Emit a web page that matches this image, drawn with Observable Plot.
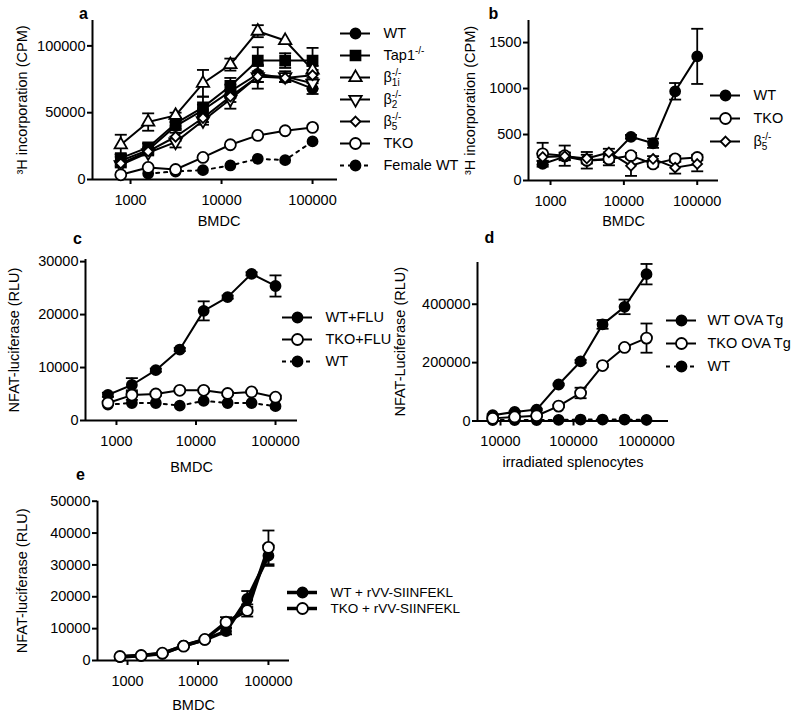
<!DOCTYPE html>
<html><head><meta charset="utf-8">
<script src="https://cdn.jsdelivr.net/npm/d3@7"></script>
<script src="https://cdn.jsdelivr.net/npm/@observablehq/plot@0.6"></script>
<style>
body{margin:0;background:#fff;}
#fig{position:relative;width:800px;height:717px;overflow:hidden;background:#fff;}
</style></head><body><div id="fig"></div>
<script>
const FONT = '"Liberation Sans", Arial, Helvetica, sans-serif';

// ---------- data ----------
const X_BMDC = [781.25, 1562.5, 3125, 6250, 12500, 25000, 50000, 100000];
const X_SPL = [7812.5, 15625, 31250, 62500, 125000, 250000, 500000, 1000000];
const TICKS_BMDC = [1000, 10000, 100000];
const TICKS_SPL = [10000, 100000, 1000000];

// panel a
const A_NAMES = ["WT", "Tap1-/-", "β1i-/-", "β2-/-", "β5-/-", "TKO", "Female WT"];
const A_WT = [14000, 22000, 40000, 52000, 66000, 79000, 76000, 68000];
const A_WT_ERR = [3000, 2000, 3000, 4000, 5000, 6000, 3000, 4000];
const A_TAP1 = [16000, 24000, 42000, 54000, 70000, 89000, 89000, 89000];
const A_TAP1_ERR = [3000, 3000, 4000, 8000, 6000, 10000, 5500, 9500];
const A_B1I = [26000, 43000, 48000, 72000, 86000, 111000, 104000, 82000];
const A_B1I_ERR = [7500, 6500, 2000, 10000, 4500, 4500, 0, 3000];
const A_B2 = [11000, 20000, 28000, 44000, 60000, 77000, 77000, 72000];
const A_B2_ERR = [2000, 2000, 4000, 3000, 7000, 9000, 4000, 4000];
const A_B5 = [12000, 21000, 32000, 46000, 62000, 77000, 76000, 78000];
const A_B5_ERR = [2000, 2000, 3000, 3000, 4000, 4000, 3000, 4000];
const A_TKO = [3500, 9000, 7500, 16500, 26000, 33000, 36500, 39000];
const A_FEMALE = [null, 4500, 6000, 7000, 10500, 15500, 14500, 28500];
const A_YTICKS = [0, 50000, 100000];

// panel b
const B_NAMES = ["WT", "TKO", "β5-/-"];
const B_WT = [180, 260, 215, 230, 475, 405, 970, 1350];
const B_WT_ERR = [30, 40, 30, 30, 20, 50, 90, 300];
const B_TKO = [290, 270, 220, 235, 270, 180, 235, 250];
const B_TKO_ERR = [120, 110, 90, 70, 30, 30, 30, 30];
const B_B5 = [255, 265, 240, 305, 160, 235, 140, 180];
const B_B5_ERR = [40, 40, 40, 40, 110, 30, 65, 80];
const B_YTICKS = [0, 500, 1000, 1500];

// panel c
const C_NAMES = ["WT+FLU", "TKO+FLU", "WT"];
const C_WTFLU = [4850, 6700, 9500, 13400, 20700, 23300, 27700, 25400];
const C_WTFLU_ERR = [400, 1300, 300, 300, 1800, 300, 300, 2000];
const C_TKOFLU = [3300, 4800, 5000, 5700, 5700, 5100, 5400, 4400];
const C_TKOFLU_ERR = [300, 900, 300, 200, 300, 300, 200, 300];
const C_WT = [3000, 3300, 3300, 2800, 3700, 3300, 3300, 2700];
const C_YTICKS = [0, 10000, 20000, 30000];

// panel d
const D_NAMES = ["WT OVA Tg", "TKO OVA Tg", "WT"];
const D_WTOVA = [20000, 31000, 39000, 125000, 204000, 331000, 391000, 503000];
const D_WTOVA_ERR = [3000, 3000, 3000, 3000, 5000, 15000, 25000, 35000];
const D_TKOOVA = [9000, 14000, 18000, 51000, 96000, 190000, 252000, 284000];
const D_TKOOVA_ERR = [2000, 2000, 3000, 4000, 18000, 5000, 5000, 50000];
const D_WT = [3000, 3000, 3000, 4000, 5000, 5000, 5000, 4000];
const D_YTICKS = [0, 200000, 400000];

// panel e
const E_NAMES = ["WT + rVV-SIINFEKL", "TKO + rVV-SIINFEKL"];
const E_WT = [1050, 1570, 2100, 4700, 6500, 9200, 19300, 32900];
const E_WT_ERR = [200, 200, 300, 300, 400, 1000, 2500, 3200];
const E_TKO = [1250, 1570, 2300, 4500, 6600, 12000, 15700, 35500];
const E_TKO_ERR = [200, 200, 300, 300, 400, 1600, 1900, 5300];
const E_YTICKS = [0, 10000, 20000, 30000, 40000, 50000];

// ---------- styles ----------
const TRI_DOWN = {draw(ctx, size) {
  const s3 = Math.sqrt(3), y = Math.sqrt(size / (s3 * 3));
  ctx.moveTo(0, y * 2); ctx.lineTo(-s3 * y, -y); ctx.lineTo(s3 * y, -y); ctx.closePath();
}};
const CAP = {draw(ctx) { ctx.moveTo(-6, 0); ctx.lineTo(6, 0); }};
const STYLE = {
  filled: {symbol: "circle", fill: "black", r: 5},
  square: {symbol: "square", fill: "black", r: 5.6},
  triUp: {symbol: "triangle", fill: "white", r: 4.6},
  triDown: {symbol: TRI_DOWN, fill: "white", r: 4.6},
  diamond: {symbol: "diamond2", fill: "white", r: 4.4},
  open: {symbol: "circle", fill: "white", r: 5.5},
  dotted: {symbol: "circle", fill: "black", r: 5, dash: "3,5", legendDash: "4,4"}
};
const RICH = {
  "Tap1-/-": [["Tap1"], ["-/-", "sup"]],
  "β1i-/-": [["β"], ["1i", "sub"], ["-/-", "supst"]],
  "β2-/-": [["β"], ["2", "sub"], ["-/-", "supst"]],
  "β5-/-": [["β"], ["5", "sub"], ["-/-", "supst"]]
};

const fig = document.getElementById("fig");
function place(svg, left, top) {
  svg.style.position = "absolute";
  svg.style.left = left + "px";
  svg.style.top = top + "px";
  fig.appendChild(svg);
  richify(svg);
  return svg;
}
function richify(svg) {
  d3.select(svg).selectAll("text").each(function() {
    const parts = RICH[this.textContent];
    if (!parts) return;
    const el = d3.select(this);
    el.text(null);
    let subW = 0;
    for (const [t, kind] of parts) {
      const ts = el.append("tspan").text(t);
      if (kind === "sub") { ts.attr("font-size", 10).attr("dy", 4); subW = ts.node().getComputedTextLength(); }
      else if (kind === "sup") ts.attr("font-size", 10).attr("dy", -6);
      else if (kind === "supst") ts.attr("font-size", 10).attr("dy", -10).attr("dx", -subW);
    }
  });
}
const baseStyle = {fontFamily: FONT, fontSize: "14.5px", background: "transparent", overflow: "visible", color: "black"};

function drawPanel(p) {
  const marks = [
    Plot.ruleY([p.yDomain[0]], {stroke: "black", strokeWidth: 2}),
    Plot.ruleX([p.xDomain[0]], {stroke: "black", strokeWidth: 2}),
    Plot.axisX({ticks: p.xTicks, tickFormat: d3.format("d"), tickSize: 5, tickPadding: 10, strokeWidth: 2, label: null}),
    Plot.axisY({ticks: p.yTicks, tickFormat: d3.format("d"), tickSize: 5, tickPadding: 2, strokeWidth: 2, label: null})
  ];
  const rowsOf = s => p.x.map((x, i) => ({x, y: s.y[i], e: s.e ? s.e[i] : 0})).filter(d => d.y != null);
  for (const s of p.series) {
    const st = STYLE[s.style];
    marks.push(Plot.line(rowsOf(s), {x: "x", y: "y", stroke: "black", strokeWidth: p.lw, strokeDasharray: st.dash}));
  }
  for (const s of p.series) {
    const er = rowsOf(s).filter(d => d.e > 0);
    marks.push(Plot.ruleX(er, {x: "x", y1: d => d.y - d.e, y2: d => d.y + d.e, stroke: "black", strokeWidth: 1.8}));
    marks.push(Plot.dot(er, {x: "x", y: d => d.y + d.e, symbol: CAP, r: 4, fill: "none", stroke: "black", strokeWidth: 1.8}));
    marks.push(Plot.dot(er, {x: "x", y: d => d.y - d.e, symbol: CAP, r: 4, fill: "none", stroke: "black", strokeWidth: 1.8}));
  }
  for (const s of p.series) {
    const st = STYLE[s.style];
    marks.push(Plot.dot(rowsOf(s), {x: "x", y: "y", symbol: st.symbol, r: st.r * (p.rScale || 1), fill: st.fill, stroke: "black", strokeWidth: 1.8}));
  }
  marks.push(Plot.text([p.xLabel], {text: d => d, frameAnchor: "bottom", dx: p.xLabelDx || 0, dy: p.xLabelDy, textAnchor: "middle", lineAnchor: "middle"}));
  marks.push(Plot.text([p.yLabel], {text: d => d, frameAnchor: "left", rotate: -90, dx: p.yLabelDx, textAnchor: "middle", lineAnchor: "middle"}));
  marks.push(Plot.text([p.letter], {text: d => d, frameAnchor: "top-left", dx: p.letterDx, dy: p.letterDy, fontWeight: "bold", fontSize: 16, textAnchor: "middle", lineAnchor: "middle"}));
  const svg = Plot.plot({
    width: p.width, height: p.height,
    marginLeft: p.mL, marginRight: p.mR, marginTop: p.mT, marginBottom: p.mB,
    x: {type: "log", domain: p.xDomain},
    y: {domain: p.yDomain},
    style: baseStyle,
    marks
  });
  return place(svg, p.left, p.top);
}

function drawLegend(g) {
  const names = g.items.map(d => d.name);
  const marks = [];
  for (const it of g.items) {
    const st = STYLE[it.style];
    marks.push(Plot.ruleY([it.name], {y: d => d, x1: () => 0, x2: () => 1, stroke: "black", strokeWidth: g.lw, strokeDasharray: st.legendDash}));
    marks.push(Plot.dot([it.name], {y: d => d, x: () => 0.5, symbol: st.symbol, r: st.r, fill: st.fill, stroke: "black", strokeWidth: 1.8}));
    marks.push(Plot.text([it.name], {y: d => d, x: () => 1, text: d => d, dx: g.gap, textAnchor: "start", lineAnchor: "middle", fontSize: g.fontSize}));
  }
  const svg = Plot.plot({
    width: g.width, height: g.height,
    marginLeft: g.x0 - g.left, marginRight: g.width - (g.x1 - g.left),
    marginTop: g.y0 - g.top, marginBottom: g.height - (g.y1 - g.top),
    x: {domain: [0, 1], axis: null},
    y: {type: "point", domain: names, padding: 0, axis: null},
    style: baseStyle,
    marks
  });
  return place(svg, g.left, g.top);
}

// ---------- panel a ----------
const seriesA = [
  {name: A_NAMES[6], y: A_FEMALE, e: null, style: "dotted"},
  {name: A_NAMES[0], y: A_WT, e: A_WT_ERR, style: "filled"},
  {name: A_NAMES[1], y: A_TAP1, e: A_TAP1_ERR, style: "square"},
  {name: A_NAMES[2], y: A_B1I, e: A_B1I_ERR, style: "triUp"},
  {name: A_NAMES[3], y: A_B2, e: A_B2_ERR, style: "triDown"},
  {name: A_NAMES[4], y: A_B5, e: A_B5_ERR, style: "diamond"},
  {name: A_NAMES[5], y: A_TKO, e: null, style: "open"}
];
drawPanel({left: 0, top: 0, width: 345, height: 235, mL: 92, mR: 8, mT: 20, mB: 56,
  x: X_BMDC, xDomain: [382, 188000], yDomain: [0, 119000], xTicks: TICKS_BMDC, yTicks: A_YTICKS,
  series: seriesA, lw: 2, xLabel: "BMDC", xLabelDx: 4, xLabelDy: 42,
  yLabel: "³H incorporation (CPM)", yLabelDx: -70, letter: "a", letterDx: -9, letterDy: -7});
drawLegend({left: 335, top: 20, width: 130, height: 160, x0: 340, x1: 370, y0: 32.5, y1: 164.5, gap: 13, lw: 2,
  items: [0, 1, 2, 3, 4, 5, 6].map(i => ({name: A_NAMES[i], style: ["filled", "square", "triUp", "triDown", "diamond", "open", "dotted"][i]}))});

// ---------- panel b ----------
const seriesB = [
  {name: B_NAMES[0], y: B_WT, e: B_WT_ERR, style: "filled"},
  {name: B_NAMES[1], y: B_TKO, e: B_TKO_ERR, style: "open"},
  {name: B_NAMES[2], y: B_B5, e: B_B5_ERR, style: "diamond"}
];
drawPanel({left: 440, top: 0, width: 290, height: 235, mL: 88, mR: 12, mT: 20, mB: 55,
  x: X_BMDC, xDomain: [501, 195000], yDomain: [0, 1740], xTicks: TICKS_BMDC, yTicks: B_YTICKS,
  series: seriesB, lw: 2, xLabel: "BMDC", xLabelDy: 41,
  yLabel: "³H incorporation (CPM)", yLabelDx: -58, letter: "b", letterDx: -35, letterDy: -7});
drawLegend({left: 700, top: 80, width: 100, height: 80, x0: 710, x1: 740, y0: 94, y1: 141, gap: 13, lw: 2,
  items: [{name: B_NAMES[0], style: "filled"}, {name: B_NAMES[1], style: "open"}, {name: B_NAMES[2], style: "diamond"}]});

// ---------- panel c ----------
const seriesC = [
  {name: C_NAMES[2], y: C_WT, e: null, style: "dotted"},
  {name: C_NAMES[0], y: C_WTFLU, e: C_WTFLU_ERR, style: "filled"},
  {name: C_NAMES[1], y: C_TKOFLU, e: C_TKOFLU_ERR, style: "open"}
];
drawPanel({left: 0, top: 240, width: 310, height: 240, mL: 85, mR: 13, mT: 19, mB: 60,
  x: X_BMDC, xDomain: [408, 189000], yDomain: [0, 30400], xTicks: TICKS_BMDC, yTicks: C_YTICKS,
  series: seriesC, lw: 2, xLabel: "BMDC", xLabelDy: 47,
  yLabel: "NFAT-luciferase (RLU)", yLabelDx: -71, letter: "c", letterDx: -8, letterDy: -21});
drawLegend({left: 275, top: 300, width: 140, height: 80, x0: 282, x1: 312, y0: 317, y1: 361, gap: 13, lw: 2,
  items: [{name: C_NAMES[0], style: "filled"}, {name: C_NAMES[1], style: "open"}, {name: C_NAMES[2], style: "dotted"}]});

// ---------- panel d ----------
const seriesD = [
  {name: D_NAMES[2], y: D_WT, e: null, style: "dotted"},
  {name: D_NAMES[0], y: D_WTOVA, e: D_WTOVA_ERR, style: "filled"},
  {name: D_NAMES[1], y: D_TKOOVA, e: D_TKOOVA_ERR, style: "open"}
];
drawPanel({left: 385, top: 240, width: 295, height: 240, mL: 92, mR: 12, mT: 22, mB: 59.5,
  x: X_SPL, xDomain: [4840, 2000000], yDomain: [0, 543000], xTicks: TICKS_SPL, yTicks: D_YTICKS,
  series: seriesD, lw: 2, xLabel: "irradiated splenocytes", xLabelDy: 41.5,
  yLabel: "NFAT-Luciferase (RLU)", yLabelDx: -77, letter: "d", letterDx: 12, letterDy: -25});
drawLegend({left: 660, top: 305, width: 140, height: 80, x0: 666, x1: 696, y0: 320, y1: 366, gap: 11, lw: 2,
  items: [{name: D_NAMES[0], style: "filled"}, {name: D_NAMES[1], style: "open"}, {name: D_NAMES[2], style: "dotted"}]});

// ---------- panel e ----------
const seriesE = [
  {name: E_NAMES[0], y: E_WT, e: E_WT_ERR, style: "filled"},
  {name: E_NAMES[1], y: E_TKO, e: E_TKO_ERR, style: "open"}
];
drawPanel({left: 0, top: 480, width: 300, height: 237, mL: 97, mR: 11, mT: 20.7, mB: 57,
  x: X_BMDC, xDomain: [375, 199000], yDomain: [0, 50000], xTicks: TICKS_BMDC, yTicks: E_YTICKS,
  series: seriesE, lw: 3.5, xLabel: "BMDC", xLabelDy: 45,
  yLabel: "NFAT-luciferase (RLU)", yLabelDx: -75, letter: "e", letterDx: -17, letterDy: -26});
drawLegend({left: 280, top: 580, width: 200, height: 40, x0: 287, x1: 317, y0: 591.5, y1: 608, gap: 13, lw: 3.5, fontSize: 13.5,
  items: [{name: E_NAMES[0], style: "filled"}, {name: E_NAMES[1], style: "open"}]});
</script></body></html>
